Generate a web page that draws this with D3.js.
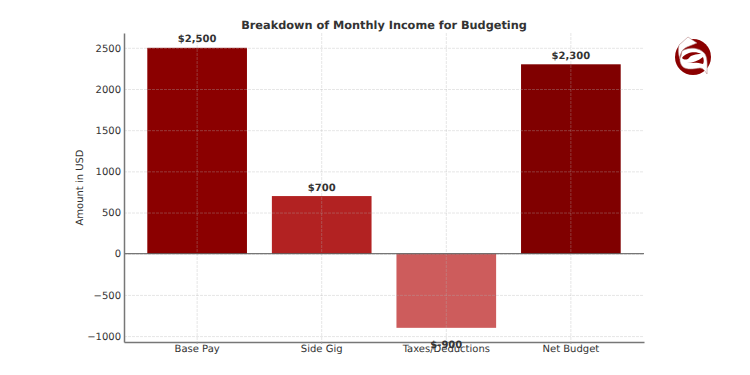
<!DOCTYPE html>
<html>
<head>
<meta charset="utf-8">
<script src="https://cdn.jsdelivr.net/npm/d3@7"></script>
<style>
  html, body { margin: 0; padding: 0; background: #fff; }
  svg { display: block; }
  text { font-family: "DejaVu Sans", sans-serif; fill: #333; text-rendering: geometricPrecision; }
</style>
</head>
<body>
<svg id="chart" width="750" height="375"></svg>
<script>
const categories = ["Base Pay", "Side Gig", "Taxes/Deductions", "Net Budget"];
const amounts    = [2500, 700, -900, 2300];
const barColors  = ["#8b0000", "#b22222", "#cd5c5c", "#800000"];
const barLabels  = ["$2,500", "$700", "$-900", "$2,300"];
const yTicks     = [-1000, -500, 0, 500, 1000, 1500, 2000, 2500];

const margin = { top: 33, right: 106, bottom: 33, left: 124 };
const innerWidth  = 750 - margin.left - margin.right;
const innerHeight = 375 - margin.top - margin.bottom;

const svg = d3.select("#chart");
const inner = svg.append("g")
  .attr("transform", `translate(${margin.left}, ${margin.top})`);

/* Scales */
const xScale = d3.scaleBand()
  .domain(categories)
  .range([0, innerWidth])
  .paddingInner(0.2)
  .paddingOuter(0.187);

const yScale = d3.scaleLinear()
  .domain([-1072, 2680])
  .range([innerHeight, 0]);

/* Bars */
inner.selectAll(".bar")
  .data(categories)
  .join("rect")
    .attr("class", "bar")
    .attr("x", d => xScale(d))
    .attr("width", xScale.bandwidth())
    .attr("y", (_, i) => yScale(Math.max(amounts[i], 0)))
    .attr("height", (_, i) => Math.abs(yScale(amounts[i]) - yScale(0)))
    .attr("fill", (_, i) => barColors[i]);

/* Grid sits above the bars */
inner.selectAll(".grid-h")
  .data(yTicks)
  .join("line")
    .attr("class", "grid-h")
    .attr("x1", 0)
    .attr("x2", innerWidth)
    .attr("y1", d => yScale(d) + 0.5)
    .attr("y2", d => yScale(d) + 0.5)
    .attr("stroke", "#b0b0b0")
    .attr("stroke-opacity", 0.32)
    .attr("stroke-dasharray", "3,1");

inner.selectAll(".grid-v")
  .data(categories)
  .join("line")
    .attr("class", "grid-v")
    .attr("x1", d => xScale(d) + xScale.bandwidth() / 2)
    .attr("x2", d => xScale(d) + xScale.bandwidth() / 2)
    .attr("y1", 0)
    .attr("y2", innerHeight)
    .attr("stroke", "#b0b0b0")
    .attr("stroke-opacity", 0.32)
    .attr("stroke-dasharray", "3,1");

/* Zero line */
inner.append("line")
  .attr("x1", 0)
  .attr("x2", innerWidth)
  .attr("y1", yScale(0))
  .attr("y2", yScale(0))
  .attr("stroke", "#555")
  .attr("stroke-width", 1);

/* Axes */
const yAxis = inner.append("g")
  .call(d3.axisLeft(yScale)
    .tickValues(yTicks)
    .tickSize(0)
    .tickPadding(3)
    .tickFormat(d => String(d).replace("-", "\u2212")));

const xAxis = inner.append("g")
  .attr("transform", `translate(0, ${innerHeight})`)
  .call(d3.axisBottom(xScale).tickSizeInner(2).tickSizeOuter(0).tickPadding(1));

[yAxis, xAxis].forEach(axis => {
  axis.selectAll("text").style("font-size", "10px").attr("fill", "#333");
  axis.select(".domain").attr("stroke", "#777").attr("stroke-width", 1.5);
  axis.selectAll(".tick line").attr("stroke", "#999").attr("stroke-width", 0.8);
});

/* Value labels */
inner.selectAll(".bar-label")
  .data(categories)
  .join("text")
    .attr("class", "bar-label")
    .attr("x", d => xScale(d) + xScale.bandwidth() / 2)
    .attr("y", (_, i) => amounts[i] < 0 ? yScale(amounts[i]) + 20 : yScale(amounts[i]) - 5.5)
    .attr("text-anchor", "middle")
    .style("font-size", "10px")
    .style("font-weight", 700)
    .text((_, i) => barLabels[i]);

/* Title and y label */
svg.append("text")
  .attr("x", margin.left + innerWidth / 2)
  .attr("y", 29)
  .attr("text-anchor", "middle")
  .style("font-size", "11.3px")
  .style("font-weight", 700)
  .text("Breakdown of Monthly Income for Budgeting");

svg.append("text")
  .attr("transform", `translate(83, ${margin.top + innerHeight / 2}) rotate(-90)`)
  .attr("text-anchor", "middle")
  .style("font-size", "10px")
  .text("Amount in USD");

/* Logo, top right */
const logo = svg.append("g").attr("transform", "translate(693, 57)");

logo.append("circle")
  .attr("r", 18)
  .attr("fill", "#8b0000");

// roof
logo.append("path")
  .attr("d", "M-14,-12 L-5,-20 L4,-14 L-6,-10 C-11,-8 -13,-3 -13,2 C-15,-3 -15,-8 -14,-12 Z")
  .attr("fill", "#fff")
  .attr("stroke", "#b98a8a")
  .attr("stroke-width", 0.6);

// white body
logo.append("path")
  .attr("d", "M-11,-6 C-3,-11 8,-9 12,-3 C15,2 14,10 14,17 C12,14 10,11 7,11 C0,12 -6,13 -10,10 C-13,7 -14,2 -12,-1 Z")
  .attr("fill", "#fff")
  .attr("stroke", "#b98a8a")
  .attr("stroke-width", 0.6);

// red swirl inside the body
logo.append("path")
  .attr("d", "M-11,1 C-7,-5 3,-6 8,-3 C3,-3 -2,-2 -4,1 C-6,3 -9,3 -11,1 Z")
  .attr("fill", "#8b0000");

logo.append("path")
  .attr("d", "M-6,6 C-1,6 5,4 10,0 C11,3 11,5 10,7 C4,5 -1,6 -6,6 Z")
  .attr("fill", "#8b0000");
</script>
</body>
</html>
